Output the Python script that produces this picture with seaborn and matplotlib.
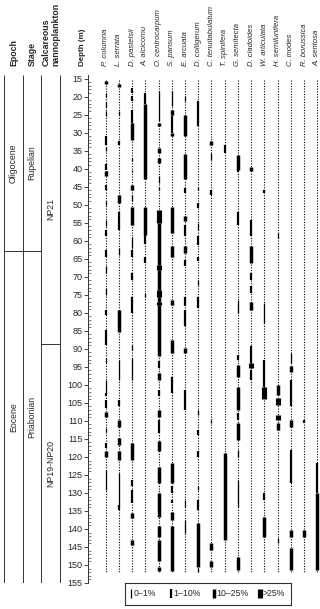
import matplotlib
matplotlib.use("Agg")
import matplotlib.pyplot as plt
import matplotlib.transforms as mtransforms
import seaborn as sns
import pandas as pd

# ---------------- data ----------------
TAXA = ["P. columna", "L. serrata", "D. pastelsii", "A. alcicornu", "O. centrocarpum",
        "S. pansum", "E. arcuata", "D. colligerum", "C. tenuitabulatum", "T. spinifera",
        "G. semitecta", "D. cladoides", "W. articulata", "H. semilunifera", "C. inodes",
        "R. borussica", "A. sentosa"]

# (top depth, bottom depth, abundance class 1..4)
P_COLUMNA = [(15.6, 16.6, 3), (19, 20, 1), (21.5, 23, 1), (24, 25.5, 1), (31, 33.5, 2), (34, 35, 1),
             (38.8, 40.4, 2), (40.7, 42.1, 3), (44.4, 45.8, 2), (49, 50, 1), (54.2, 56, 1), (57, 58.8, 2),
             (62.5, 64.4, 2), (67, 69, 1), (73, 75, 1), (79.2, 80.6, 2), (84.7, 88.9, 2), (92.6, 94, 1),
             (98.6, 102.3, 1), (102.3, 103, 2), (104.2, 106.5, 2), (107.4, 108.8, 3), (112, 113, 1),
             (116.2, 117.6, 2), (118.5, 119.9, 3), (123.6, 129.2, 1)]
L_SERRATA = [(16.4, 17.3, 3), (24, 25, 1), (32.4, 33.3, 2), (47.2, 49.5, 3), (51.9, 57, 2), (62, 64, 1),
             (79.2, 85.2, 3), (93, 98.6, 1), (104.2, 106, 2), (109.7, 111.6, 3), (114.8, 116.7, 3),
             (118.5, 120.8, 3), (124.5, 133.3, 1), (133.3, 134.7, 2)]
D_PASTELSII = [(17.6, 19, 2), (19.9, 21.3, 2), (23.6, 27.3, 2), (27.3, 32, 3), (37, 38, 1), (40.3, 41, 1),
               (44.4, 45.8, 3), (47.2, 49, 1), (50.5, 55.6, 3), (59, 62, 1), (62.5, 64.4, 2), (69, 71, 2),
               (75.5, 80.1, 2), (88.9, 90.3, 1), (92.6, 98.6, 1), (116.2, 120.8, 3), (126.4, 128.2, 2),
               (129.2, 132.9, 2), (135.6, 137, 3), (143, 144.4, 3)]
A_ALCICORNU = [(19, 22, 2), (22, 43, 3), (50.5, 58.3, 3), (58.3, 61, 2), (64.4, 66.2, 2), (74.5, 75.5, 1)]
O_CENTROCARPUM = [(18.5, 26.8, 1), (27.3, 28.2, 3), (34.3, 35.6, 3), (37, 38.4, 3), (42, 44, 1), (45, 46, 1),
                  (51.4, 55.1, 4), (55.1, 66.7, 3), (66.7, 68, 4), (68, 73.6, 3), (73.6, 75.5, 4),
                  (75.5, 76.9, 3), (76.9, 77.8, 4), (77.8, 92, 3), (93.5, 95.4, 2), (96.8, 98.6, 3),
                  (101.4, 103.2, 2), (107, 108.8, 3), (109.7, 113.4, 2), (115.7, 118.5, 3),
                  (122.7, 127.3, 3), (130.1, 136.6, 3), (139.3, 142.1, 3), (143, 149, 3), (150.5, 151.8, 3)]
S_PANSUM = [(18.5, 22.7, 1), (23.6, 25, 3), (25.5, 30, 2), (30, 30.8, 3), (50.5, 57.9, 3), (61.6, 64.4, 3),
            (76.4, 77.8, 3), (87.5, 91.2, 3), (97.7, 102.3, 2), (121.8, 127.3, 3), (128.2, 130.1, 2),
            (132, 132.9, 2), (135.2, 137.5, 3), (139.3, 151.8, 3)]
E_ARCUATA = [(19.9, 21.3, 1), (25, 31, 3), (36, 43, 3), (45.4, 46.8, 2), (53.2, 54.6, 3), (55.6, 58.8, 2),
             (61.6, 63.4, 3), (65.3, 67.1, 2), (75.5, 78.2, 2), (79.2, 83.8, 2), (89.8, 91.2, 3),
             (101.4, 107, 2), (132, 133.8, 1), (137.5, 141.2, 1)]
D_COLLIGERUM = [(21.3, 28.2, 2), (45, 46, 1), (49.5, 51, 2), (55, 57, 1), (58.8, 61.1, 2), (64.4, 65.7, 2),
                (70.8, 72.2, 1), (75.5, 78.7, 2), (107, 108.3, 1), (112.5, 113.9, 2), (118.5, 119.9, 2),
                (128.2, 129.2, 1), (132, 134.7, 2), (138.4, 150.5, 3), (150.9, 152, 1)]
C_TENUITABULATUM = [(32.4, 33.3, 3), (35.6, 37.5, 1), (45.8, 47.2, 2), (109.7, 110.6, 1), (144, 145.8, 3),
                    (149, 150.5, 3)]
T_SPINIFERA = [(33.3, 35.6, 2), (119, 143, 3)]
G_SEMITECTA = [(36.1, 40.3, 3), (40.3, 41, 2), (51.9, 55.6, 2), (76.4, 80.1, 1), (91.7, 93, 2),
               (94.4, 97.7, 3), (100.5, 107, 3), (107.9, 109.7, 2), (110.6, 115.3, 3), (118, 119.9, 1),
               (126.4, 133.8, 1), (147.7, 151.4, 3)]
D_CLADOIDES = [(39.4, 40.7, 3), (54.2, 58.8, 2), (61.6, 66.2, 3), (69, 70.8, 2), (72.7, 74.5, 2),
               (76.9, 79.2, 3), (89.3, 94, 2), (94, 95.4, 4), (95.8, 98.6, 2)]
W_ARTICULATA = [(45.8, 46.8, 2), (77.3, 82.9, 1), (93, 100.5, 2), (100.5, 104, 4), (130.1, 132, 2),
                (136.6, 142.1, 3)]
H_SEMILUNIFERA = [(57.9, 59.3, 1), (100, 102.8, 3), (103.7, 105.6, 4), (108.3, 109.7, 4), (110.6, 112.5, 3),
                  (142.6, 144, 1)]
C_INODES = [(91.2, 94, 1), (94.9, 96.3, 3), (98.6, 106, 2), (109.7, 111.6, 3), (118, 127.3, 2),
            (140.3, 142.1, 3), (145.4, 151.4, 3)]
R_BORUSSICA = [(109.7, 110.6, 2), (140.3, 142.1, 3)]
A_SENTOSA = [(121.8, 130, 2), (130.1, 151.4, 3)]

RANGES = [P_COLUMNA, L_SERRATA, D_PASTELSII, A_ALCICORNU, O_CENTROCARPUM, S_PANSUM, E_ARCUATA,
          D_COLLIGERUM, C_TENUITABULATUM, T_SPINIFERA, G_SEMITECTA, D_CLADOIDES, W_ARTICULATA,
          H_SEMILUNIFERA, C_INODES, R_BORUSSICA, A_SENTOSA]

SAMPLE_TOP, SAMPLE_BOTTOM = 15.5, 152.0
DEPTH_TICKS = list(range(15, 160, 5))

EPOCHS = [("Oligocene", 14, 62.8), ("Eocene", 62.8, 155)]
STAGES = [("Rupelian", 14, 62.8), ("Priabonian", 62.8, 155)]
ZONES = [("NP21", 14, 88.6), ("NP19-NP20", 88.6, 155)]

LEGEND_LABELS = ["0–1%", "1–10%", "10–25%", ">25%"]

# ---------------- style ----------------
sns.set_theme(style="white")
plt.rcParams["font.family"] = ["Liberation Sans", "DejaVu Sans"]
plt.rcParams["font.size"] = 6.5

LW = {1: 0.9, 2: 1.6, 3: 2.5, 4: 3.7}

W, H = 320, 609
fig = plt.figure(figsize=(W / 100, H / 100), dpi=100)

def fx(px):
    return px / W

def fy(py):
    return 1 - py / H

Y0, Y1 = 14, 155
ax_top, ax_bot = 75, 583
ax = fig.add_axes([fx(88), fy(ax_bot), fx(232), (ax_bot - ax_top) / H])

df = pd.DataFrame([(i, t, b, c) for i, segs in enumerate(RANGES) for (t, b, c) in segs],
                  columns=["taxon", "top", "bottom", "cls"])

# sample dotted lines
ax.vlines(range(len(TAXA)), SAMPLE_TOP, SAMPLE_BOTTOM, colors="black", linewidth=0.8,
          linestyles=[(0, (1, 1.4))])
for cls, g in df.groupby("cls"):
    ax.vlines(g["taxon"], g["top"], g["bottom"], colors="black", linewidth=LW[cls],
              capstyle="butt")

ax.set_xlim(-1.34, 16.21)
ax.set_ylim(Y1, Y0)
ax.set_yticks(DEPTH_TICKS)
ax.set_yticks(range(15, 156), minor=True)
ax.set_xticks([])
ax.tick_params(axis="y", which="major", direction="out", length=3, width=0.6, pad=1,
               labelsize=6.5, left=True)
ax.tick_params(axis="y", which="minor", direction="in", length=2, width=0.4, left=True)
sns.despine(ax=ax, top=True, right=True, bottom=True, left=False)
ax.spines["left"].set_linewidth(0.7)
ax.spines["left"].set_color("#333333")
ax.set_facecolor("none")
ax.grid(False)

# taxon labels
trans = mtransforms.blended_transform_factory(ax.transData, fig.transFigure)
for i, name in enumerate(TAXA):
    ax.text(i, fy(66), name, rotation=90, ha="center", va="bottom", fontstyle="italic",
            fontsize=5.5, transform=trans)

# header labels
hdr = dict(rotation=90, ha="center", va="bottom", fontweight="bold", fontsize=6.3)
fig.text(fx(14), fy(66), "Epoch", **hdr)
fig.text(fx(32), fy(66), "Stage", **hdr)
fig.text(fx(51), fy(66), "Calcareous\nnannoplankton", multialignment="left", **hdr)
hdr["fontsize"] = 5.8
fig.text(fx(82), fy(66), "Depth (m)", **hdr)

# stratigraphy columns
sax = fig.add_axes([0, fy(ax_bot), fx(88), (ax_bot - ax_top) / H])
sax.set_xlim(0, 88)
sax.set_ylim(Y1, Y0)
sax.axis("off")
cols = [4, 22.7, 41.3, 60]
sax.vlines(cols, Y0, Y1, colors="#333333", linewidth=0.7)
for (name, t, b) in EPOCHS:
    sax.text((cols[0] + cols[1]) / 2, (t + b) / 2, name, rotation=90, ha="center", va="center", fontsize=6.3)
for (name, t, b) in STAGES:
    sax.text((cols[1] + cols[2]) / 2, (t + b) / 2, name, rotation=90, ha="center", va="center", fontsize=6.3)
for (name, t, b) in ZONES:
    sax.text((cols[2] + cols[3]) / 2, (t + b) / 2, name, rotation=90, ha="center", va="center", fontsize=6.3)
sax.hlines(EPOCHS[1][1], cols[0], cols[2], colors="#333333", linewidth=0.7)
sax.hlines(ZONES[1][1], cols[2], cols[3], colors="#333333", linewidth=0.7)

# legend box
lx0, lx1, ly0, ly1 = 125, 291, 583, 605
lax = fig.add_axes([fx(lx0), fy(ly1), fx(lx1 - lx0), (ly1 - ly0) / H])
lax.set_xlim(lx0, lx1)
lax.set_ylim(ly1, ly0)
lax.set_xticks([])
lax.set_yticks([])
for s in lax.spines.values():
    s.set_linewidth(0.8)
    s.set_color("#333333")
bar_x = [131, 170.5, 213.5, 260]
for k, (bx, lab) in enumerate(zip(bar_x, LEGEND_LABELS)):
    lax.vlines(bx, 588.5, 597.5, colors="black", linewidth=LW[k + 1], capstyle="butt")
    lax.text(bx + 2.5, 593.5, lab, ha="left", va="center", fontsize=6.3)

fig.savefig("out.png", dpi=100)
